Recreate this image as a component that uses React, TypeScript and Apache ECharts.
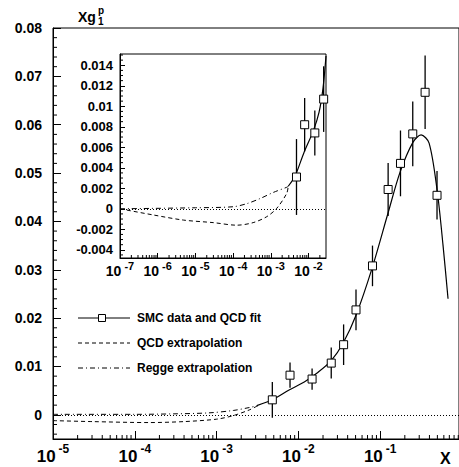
import React, { useEffect, useRef } from 'react';
import * as echarts from 'echarts';

// SMC data points
const dataX = [0.0048, 0.0079, 0.0147, 0.0252, 0.0357, 0.0506, 0.0805, 0.125, 0.177, 0.25, 0.354, 0.495];
const dataY = [0.0031, 0.0082, 0.0074, 0.0107, 0.0145, 0.0217, 0.0308, 0.0466, 0.052, 0.0581, 0.0667, 0.0454];
const dataErr = [0.0037, 0.0026, 0.0022, 0.0032, 0.0042, 0.0042, 0.0042, 0.0055, 0.0068, 0.0067, 0.0076, 0.005];

// QCD fit (main panel)
const fitX = [0.0031, 0.0048, 0.0078, 0.0118, 0.0171, 0.0252, 0.0354, 0.0509, 0.0798, 0.125, 0.175, 0.252, 0.316, 0.396, 0.496, 0.586, 0.675];
const fitY = [0.0019, 0.0031, 0.0052, 0.0068, 0.0087, 0.0112, 0.0149, 0.0207, 0.0304, 0.0418, 0.0502, 0.0564, 0.0579, 0.0562, 0.0465, 0.0351, 0.024];

// QCD extrapolation (main panel)
const qcdX = [1e-5, 3e-5, 1.5e-4, 4e-4, 1e-3, 0.00157, 0.0025, 0.0032];
const qcdY = [-0.0012, -0.0014, -0.0016, -0.0014, -0.0009, -0.0002, 0.001, 0.0019];

// Regge extrapolation (main panel)
const reggeX = [1e-5, 1e-4, 3e-4, 8e-4, 0.0016, 0.0025, 0.0032];
const reggeY = [0.0001, 0.0001, 0.0002, 0.0004, 0.0009, 0.0015, 0.0019];

// Inset curves
const insetFitX = [0.0029, 0.0044, 0.0076, 0.0134, 0.019, 0.0243, 0.0291];
const insetFitY = [0.0022, 0.0032, 0.0055, 0.0076, 0.0094, 0.0118, 0.0149];
const insetQcdX = [1e-7, 7.6e-7, 4.8e-6, 3e-5, 1.25e-4, 3.4e-4, 7.8e-4, 0.00144, 0.00264, 0.0029];
const insetQcdY = [0, -0.0006, -0.0011, -0.00135, -0.0016, -0.00135, -0.00077, 0.00005, 0.0015, 0.0022];
const insetReggeX = [1e-7, 1e-5, 1e-4, 2.3e-4, 5.2e-4, 1.17e-3, 2.64e-3, 0.0029];
const insetReggeY = [0, 0.0001, 0.0002, 0.0005, 0.001, 0.0016, 0.0021, 0.0022];

// Tick labels
const mainXTicks = [1e-5, 1e-4, 1e-3, 1e-2, 1e-1];
const mainYTicks = [0, 0.01, 0.02, 0.03, 0.04, 0.05, 0.06, 0.07, 0.08];
const insetXTicks = [1e-7, 1e-6, 1e-5, 1e-4, 1e-3, 1e-2];
const insetYTicks = [-0.004, -0.002, 0, 0.002, 0.004, 0.006, 0.008, 0.01, 0.012, 0.014];

const legendItems = ['SMC data and QCD fit', 'QCD extrapolation', 'Regge extrapolation'];

const FONT = 'Liberation Sans, Arial, Helvetica, sans-serif';

const MAIN_XMIN = 1e-5;
const MAIN_XMAX = 0.919;
const MAIN_YMIN = -0.005;
const MAIN_YMAX = 0.08;
const INSET_XMIN = 1e-7;
const INSET_XMAX = 0.0291;
const INSET_YMIN = -0.0048;
const INSET_YMAX = 0.0151;

function logMinor(min: number, max: number): number[] {
  const out: number[] = [];
  for (let d = Math.floor(Math.log10(min)); d <= Math.ceil(Math.log10(max)); d++) {
    for (let k = 2; k <= 9; k++) {
      const v = k * Math.pow(10, d);
      if (v > min && v < max) out.push(v);
    }
  }
  return out;
}

function linMinor(min: number, max: number, step: number, majors: number[]): number[] {
  const out: number[] = [];
  const start = Math.ceil(min / step - 1e-9);
  const end = Math.floor(max / step + 1e-9);
  for (let i = start; i <= end; i++) {
    const v = +(i * step).toFixed(6);
    if (!majors.some((m) => Math.abs(m - v) < 1e-9)) out.push(v);
  }
  return out;
}

const zip = (xs: number[], ys: number[]) => xs.map((x, i) => [x, ys[i]]);
const pts = dataX.map((x, i) => [x, dataY[i], dataErr[i]]);

function expLabel(v: number) {
  return '{b|10}{e|' + Math.round(Math.log10(v)) + '}';
}

function errorBarSeries(idx: number, lw: number) {
  return {
    type: 'custom',
    xAxisIndex: idx,
    yAxisIndex: idx,
    clip: true,
    z: 3,
    silent: true,
    data: pts,
    renderItem: (params: any, api: any) => {
      const x = api.value(0);
      const y = api.value(1);
      const e = api.value(2);
      const p1 = api.coord([x, y + e]);
      const p2 = api.coord([x, y - e]);
      return {
        type: 'line',
        shape: { x1: p1[0], y1: p1[1], x2: p2[0], y2: p2[1] },
        style: { stroke: '#000', lineWidth: lw },
      };
    },
  };
}

// minor ticks drawn through the axis scales
function minorXTickSeries(idx: number, values: number[], ymin: number, len: number) {
  return {
    type: 'custom', xAxisIndex: idx, yAxisIndex: idx, clip: false, silent: true, z: 5,
    data: values.map((v) => [v, ymin]),
    renderItem: (params: any, api: any) => {
      const c = api.coord([api.value(0), api.value(1)]);
      return { type: 'line', shape: { x1: c[0], y1: c[1], x2: c[0], y2: c[1] - len }, style: { stroke: '#000', lineWidth: 1 } };
    },
  };
}
function minorYTickSeries(idx: number, values: number[], xmin: number, len: number) {
  return {
    type: 'custom', xAxisIndex: idx, yAxisIndex: idx, clip: false, silent: true, z: 5,
    data: values.map((v) => [xmin, v]),
    renderItem: (params: any, api: any) => {
      const c = api.coord([api.value(0), api.value(1)]);
      return { type: 'line', shape: { x1: c[0], y1: c[1], x2: c[0] + len, y2: c[1] }, style: { stroke: '#000', lineWidth: 1 } };
    },
  };
}

export default function App() {
  const ref = useRef<HTMLDivElement>(null);
  useEffect(() => {
    if (!ref.current) return;
    const chart = echarts.init(ref.current, undefined, { renderer: 'svg' });
    const axisLine = { show: true, onZero: false, lineStyle: { color: '#000', width: 1 } };
    const mainXRich = {
      b: { fontSize: 17, fontWeight: 'bold', fontFamily: FONT, color: '#000', verticalAlign: 'bottom', lineHeight: 22 },
      e: { fontSize: 12, fontWeight: 'bold', fontFamily: FONT, color: '#000', verticalAlign: 'top', padding: [0, 0, 0, 3] },
    };
    const insetXRich = {
      b: { fontSize: 14, fontWeight: 'bold', fontFamily: FONT, color: '#000', verticalAlign: 'bottom', lineHeight: 18 },
      e: { fontSize: 11, fontWeight: 'bold', fontFamily: FONT, color: '#000', verticalAlign: 'top', padding: [0, 0, 0, 3] },
    };
    const option: any = {
      animation: false,
      backgroundColor: '#fff',
      grid: [
        { left: 53, top: 28, width: 407, height: 411, show: true, borderColor: '#000', borderWidth: 1, backgroundColor: 'transparent' },
        { left: 120, top: 54, width: 206, height: 204, show: true, borderColor: '#000', borderWidth: 1, backgroundColor: '#fff' },
      ],
      xAxis: [
        {
          type: 'log', gridIndex: 0, min: MAIN_XMIN, max: MAIN_XMAX, position: 'bottom',
          axisLine, splitLine: { show: false },
          axisTick: { show: true, inside: true, length: 8, lineStyle: { color: '#000' }, customValues: mainXTicks },
          axisLabel: { customValues: mainXTicks, formatter: expLabel, rich: mainXRich, margin: 4 },
        },
        {
          type: 'log', gridIndex: 1, min: INSET_XMIN, max: INSET_XMAX, position: 'bottom',
          axisLine, splitLine: { show: false },
          axisTick: { show: true, inside: true, length: 5, lineStyle: { color: '#000' }, customValues: insetXTicks },
          axisLabel: { customValues: insetXTicks, formatter: expLabel, rich: insetXRich, margin: 2 },
        },
      ],
      yAxis: [
        {
          type: 'value', gridIndex: 0, min: MAIN_YMIN, max: MAIN_YMAX, position: 'left',
          axisLine, splitLine: { show: false },
          axisTick: { show: true, inside: true, length: 8, lineStyle: { color: '#000' }, customValues: mainYTicks },
          axisLabel: {
            customValues: mainYTicks, margin: 11, color: '#000', fontSize: 14, fontWeight: 'bold', fontFamily: FONT,
            formatter: (v: number) => parseFloat(v.toFixed(2)).toString(),
          },
        },
        {
          type: 'value', gridIndex: 1, min: INSET_YMIN, max: INSET_YMAX, position: 'left',
          axisLine, splitLine: { show: false },
          axisTick: { show: true, inside: true, length: 5, lineStyle: { color: '#000' }, customValues: insetYTicks },
          axisLabel: {
            customValues: insetYTicks, margin: 7, color: '#000', fontSize: 13, fontWeight: 'bold', fontFamily: FONT,
            formatter: (v: number) => parseFloat(v.toFixed(3)).toString(),
          },
        },
      ],
      series: [
        // main panel
        {
          type: 'line', xAxisIndex: 0, yAxisIndex: 0, data: zip(fitX, fitY), smooth: 0.3, showSymbol: false,
          lineStyle: { color: '#000', width: 1.2 }, z: 2,
          markLine: {
            silent: true, symbol: 'none', label: { show: false },
            lineStyle: { color: '#000', width: 1, type: [1, 2] },
            data: [{ yAxis: 0 }],
          },
        },
        {
          type: 'line', xAxisIndex: 0, yAxisIndex: 0, data: zip(qcdX, qcdY), smooth: 0.3, showSymbol: false,
          lineStyle: { color: '#000', width: 1, type: [4, 3] },
        },
        {
          type: 'line', xAxisIndex: 0, yAxisIndex: 0, data: zip(reggeX, reggeY), smooth: 0.3, showSymbol: false,
          lineStyle: { color: '#000', width: 1, type: [5, 3, 1, 3] },
        },
        errorBarSeries(0, 1.3),
        {
          type: 'scatter', xAxisIndex: 0, yAxisIndex: 0, data: zip(dataX, dataY), symbol: 'rect', symbolSize: 8, z: 4,
          itemStyle: { color: '#fff', borderColor: '#000', borderWidth: 1, opacity: 1 },
        },
        minorXTickSeries(0, logMinor(MAIN_XMIN, MAIN_XMAX), MAIN_YMIN, 4),
        minorYTickSeries(0, linMinor(MAIN_YMIN, MAIN_YMAX, 0.002, mainYTicks), MAIN_XMIN, 4),
        // inset
        {
          type: 'line', xAxisIndex: 1, yAxisIndex: 1, data: zip(insetFitX, insetFitY), smooth: 0.3, showSymbol: false,
          lineStyle: { color: '#000', width: 1.2 }, z: 2,
          markLine: {
            silent: true, symbol: 'none', label: { show: false },
            lineStyle: { color: '#000', width: 1, type: [1, 2] },
            data: [{ yAxis: 0 }],
          },
        },
        {
          type: 'line', xAxisIndex: 1, yAxisIndex: 1, data: zip(insetQcdX, insetQcdY), smooth: 0.3, showSymbol: false,
          lineStyle: { color: '#000', width: 1, type: [4, 3] },
        },
        {
          type: 'line', xAxisIndex: 1, yAxisIndex: 1, data: zip(insetReggeX, insetReggeY), smooth: 0.3, showSymbol: false,
          lineStyle: { color: '#000', width: 1, type: [5, 3, 1, 3] },
        },
        errorBarSeries(1, 1.3),
        {
          type: 'scatter', xAxisIndex: 1, yAxisIndex: 1, data: zip(dataX, dataY), symbol: 'rect', symbolSize: 8, z: 4,
          clip: true,
          itemStyle: { color: '#fff', borderColor: '#000', borderWidth: 1, opacity: 1 },
        },
        minorXTickSeries(1, logMinor(INSET_XMIN, INSET_XMAX), INSET_YMIN, 3),
        minorYTickSeries(1, linMinor(INSET_YMIN, INSET_YMAX, 0.0005, insetYTicks), INSET_XMIN, 3),
      ],
      graphic: [
        { type: 'text', left: 78, top: 10, style: { text: 'Xg', font: 'bold 14px ' + FONT, fill: '#000' } },
        { type: 'text', left: 98, top: 5, style: { text: 'p', font: 'bold 10px ' + FONT, fill: '#000' } },
        { type: 'text', left: 98, top: 16, style: { text: '1', font: 'bold 10px ' + FONT, fill: '#000' } },
        { type: 'text', left: 440, top: 450, style: { text: 'X', font: 'bold 16px ' + FONT, fill: '#000' } },
        // legend
        { type: 'line', shape: { x1: 78, y1: 318, x2: 130, y2: 318 }, style: { stroke: '#000', lineWidth: 1 } },
        { type: 'rect', shape: { x: 98.5, y: 314.5, width: 7, height: 7 }, style: { fill: '#fff', stroke: '#000', lineWidth: 1 } },
        { type: 'text', x: 137, y: 318, style: { text: legendItems[0], font: 'bold 12px ' + FONT, fill: '#000', verticalAlign: 'middle' } },
        { type: 'line', shape: { x1: 78, y1: 343, x2: 130, y2: 343 }, style: { stroke: '#000', lineWidth: 1, lineDash: [4, 3] } },
        { type: 'text', x: 137, y: 343, style: { text: legendItems[1], font: 'bold 12px ' + FONT, fill: '#000', verticalAlign: 'middle' } },
        { type: 'line', shape: { x1: 78, y1: 368, x2: 130, y2: 368 }, style: { stroke: '#000', lineWidth: 1, lineDash: [5, 3, 1, 3] } },
        { type: 'text', x: 137, y: 368, style: { text: legendItems[2], font: 'bold 12px ' + FONT, fill: '#000', verticalAlign: 'middle' } },
      ],
    };
    chart.setOption(option);
    return () => chart.dispose();
  }, []);
  return <div ref={ref} style={{ width: 459, height: 467, position: 'absolute', left: 0, top: 0 }} />;
}
